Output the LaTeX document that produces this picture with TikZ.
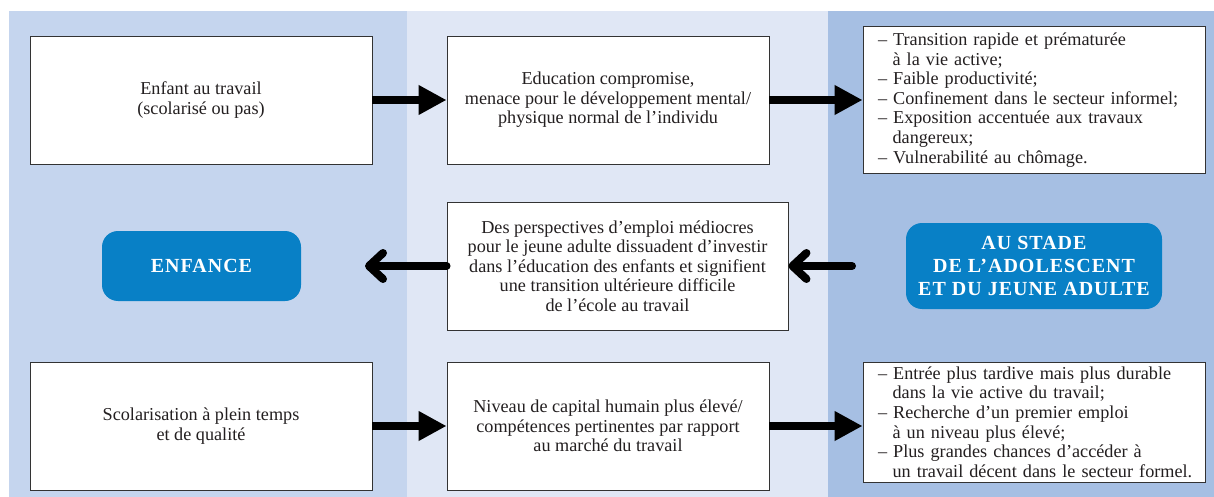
\documentclass[tikz,border=0pt]{standalone}
\usepackage{fontspec}
\setmainfont{Liberation Serif}
\newfontfamily\badgefont[LetterSpace=5]{Liberation Serif}
\usetikzlibrary{arrows.meta}
\definecolor{bandL}{HTML}{C5D5EE}
\definecolor{bandM}{HTML}{E0E7F5}
\definecolor{bandR}{HTML}{A6BFE3}
\definecolor{badgeblue}{HTML}{0880C6}
\definecolor{ink}{HTML}{231F20}
\newcommand\hang{\hspace*{0.8em}}
\begin{document}
\begin{tikzpicture}[x=1pt,y=-1pt,
 box/.style={draw=black!80,line width=0.9pt,fill=white,align=center,inner sep=0pt,
   font=\fontsize{18.2}{19.6}\selectfont,text=ink},
 listbox/.style={box,align=left,text width=312pt,inner xsep=15pt},
 badge/.style={fill=badgeblue,rounded corners=16pt,text=white,align=center,inner sep=0pt,
   font=\fontsize{20}{23}\selectfont\badgefont\bfseries},
 fat/.style={line width=8pt,-{Triangle[length=28pt,width=28pt]}},
 back/.style={line width=8pt,line cap=round,-{Straight Barb[length=14pt,width=26pt,round]}}]
\useasboundingbox (0,0) rectangle (1214,497);
\fill[white] (0,0) rectangle (1214,497);
\fill[bandL] (9,11) rectangle (407,497);
\fill[bandM] (407,11) rectangle (828,497);
\fill[bandR] (828,11) rectangle (1214,497);

\node[box,minimum width=342pt,minimum height=128pt] (b1) at (201,100)
  {Enfant au travail\\(scolarisé ou pas)};
\node[box,minimum width=322pt,minimum height=128pt] (b2) at (608,100)
  {Education compromise,\\menace pour le développement mental/\\physique normal de l’individu};
\node[listbox,minimum height=147pt] (b3) at (1034,100)
  {– Transition rapide et prématurée\\\hang à la vie active;\\– Faible productivité;\\– Confinement dans le secteur informel;\\– Exposition accentuée aux travaux\\\hang dangereux;\\– Vulnerabilité au chômage.};

\node[box,minimum width=341pt,minimum height=128pt] (mid) at (617.5,266)
  {Des perspectives d’emploi médiocres\\pour le jeune adulte dissuadent d’investir\\dans l’éducation des enfants et signifient\\une transition ultérieure difficile\\de l’école au travail};
\node[badge,minimum width=199pt,minimum height=70pt] (enf) at (201.5,266) {ENFANCE};
\node[badge,minimum width=256pt,minimum height=86pt] (ado) at (1034,266)
  {AU STADE\\DE L’ADOLESCENT\\ET DU JEUNE ADULTE};

\node[box,minimum width=342pt,minimum height=128pt] (b4) at (201,426)
  {Scolarisation à plein temps\\et de qualité};
\node[box,minimum width=322pt,minimum height=128pt] (b5) at (608,426)
  {Niveau de capital humain plus élevé/\\compétences pertinentes par rapport\\au marché du travail};
\node[listbox,minimum height=120pt] (b6) at (1034,422)
  {– Entrée plus tardive mais plus durable\\\hang dans la vie active du travail;\\– Recherche d’un premier emploi\\\hang à un niveau plus élevé;\\– Plus grandes chances d’accéder à\\\hang \makebox[0pt][l]{un travail décent dans le secteur formel.}};

\coordinate (lend) at (365,266);
\coordinate (rstart) at (852,266);

\draw[fat] (b1.east) -- (b2.west);
\draw[fat] (b2.east) -- (b3.west |- b2.east);
\draw[back] (mid.west) -- (lend);
\draw[back] (rstart) -- (mid.east);
\draw[fat] (b4.east) -- (b5.west);
\draw[fat] (b5.east) -- (b6.west |- b5.east);
\end{tikzpicture}
\end{document}
